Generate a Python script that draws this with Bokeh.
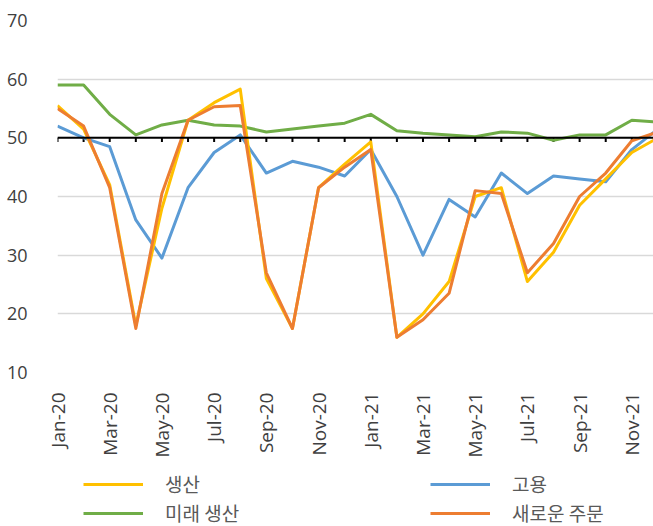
import math
from bokeh.plotting import figure
from bokeh.layouts import column
from bokeh.models import Range1d, FixedTicker, Span, Legend, LegendItem, ColumnDataSource
from bokeh.embed import file_html
from bokeh.resources import INLINE

months = ["Jan-20", "Feb-20", "Mar-20", "Apr-20", "May-20", "Jun-20", "Jul-20", "Aug-20",
          "Sep-20", "Oct-20", "Nov-20", "Dec-20", "Jan-21", "Feb-21", "Mar-21", "Apr-21",
          "May-21", "Jun-21", "Jul-21", "Aug-21", "Sep-21", "Oct-21", "Nov-21", "Dec-21"]
production = [55.5, 51.5, 42, 18, 38, 53, 56, 58.3, 26, 17.5, 41.5, 45.5,
              49.3, 16, 20, 25.5, 40, 41.5, 25.5, 30.5, 38.5, 43, 47.5, 50]
employment = [52, 50, 48.5, 36, 29.5, 41.5, 47.5, 50.5, 44, 46, 45, 43.5,
              48, 40, 30, 39.5, 36.5, 44, 40.5, 43.5, 43, 42.5, 48, 51.5]
future_production = [59, 59, 54, 50.5, 52.2, 53, 52.2, 52, 51, 51.5, 52, 52.5,
                     54, 51.2, 50.8, 50.5, 50.2, 51, 50.8, 49.6, 50.5, 50.5, 53, 52.7]
new_orders = [55, 52, 41.5, 17.5, 40.5, 53, 55.3, 55.5, 27, 17.5, 41.5, 45,
              48, 16, 19, 23.5, 41, 40.5, 27, 32, 40, 44, 49.5, 51]
names = ["생산", "고용", "미래 생산", "새로운 주문"]
colors = ["#FFC000", "#5B9BD5", "#70AD47", "#ED7D31"]
y_ticks = [10, 20, 30, 40, 50, 60, 70]
threshold = 50

idx = list(range(len(months)))
src = ColumnDataSource(dict(x=idx, prod=production, emp=employment,
                            fut=future_production, orders=new_orders))
cols = ["prod", "emp", "fut", "orders"]

p = figure(width=653, height=460, output_backend="svg", toolbar_location=None,
           x_range=Range1d(0, 22.83), y_range=Range1d(10, 70),
           min_border_left=57, min_border_top=20, min_border_right=0, min_border_bottom=86)
p.outline_line_color = None
p.background_fill_color = "white"

FONT = "Open Sans"
TXT = "#404040"

p.yaxis.ticker = FixedTicker(ticks=y_ticks)
p.yaxis.axis_line_color = None
p.yaxis.major_tick_line_color = None
p.yaxis.minor_tick_line_color = None
p.yaxis.major_label_standoff = 24
p.yaxis.major_label_text_font = FONT
p.yaxis.major_label_text_font_size = "18px"
p.yaxis.major_label_text_color = TXT

p.xaxis.ticker = FixedTicker(ticks=idx[::2])
p.xaxis.major_label_overrides = {i: months[i] for i in idx[::2]}
p.xaxis.major_label_orientation = math.pi / 2
p.xaxis.axis_line_color = None
p.xaxis.major_tick_line_color = None
p.xaxis.minor_tick_line_color = None
p.xaxis.major_label_standoff = 14
p.xaxis.major_label_text_font = FONT
p.xaxis.major_label_text_font_size = "19px"
p.xaxis.major_label_text_color = TXT

p.xgrid.grid_line_color = None
p.ygrid.grid_line_color = "#d9d9d9"
p.ygrid.grid_line_width = 1.5

p.add_layout(Span(location=threshold, dimension="width", line_color="black", line_width=2))
p.segment(x0=idx, y0=[threshold] * len(idx), x1=idx, y1=[threshold - 0.7] * len(idx),
          line_color="black", line_width=2)

lw = 3
for k in (1, 2, 0, 3):
    p.line("x", cols[k], source=src, line_color=colors[k], line_width=lw, line_join="round")

# legend strip below the chart (same series, drawn outside its visible range)
q = figure(width=653, height=66, output_backend="svg", toolbar_location=None,
           x_range=Range1d(0, 22.83), y_range=Range1d(100, 101),
           min_border_left=57, min_border_top=0, min_border_right=0, min_border_bottom=0)
q.outline_line_color = None
q.axis.visible = False
q.grid.visible = False
legend_lines = [q.line("x", c, source=src, line_color=col, line_width=3)
                for c, col in zip(cols, colors)]
legend = Legend(items=[LegendItem(label=n, renderers=[r]) for n, r in zip(names, legend_lines)],
                orientation="horizontal", ncols=2, location=(26, 0))
legend.label_text_font = "Noto Sans CJK KR"
legend.label_text_font_size = "19px"
legend.label_text_color = "#595959"
legend.glyph_width = 60
legend.glyph_height = 20
legend.label_height = 20
legend.label_standoff = 22
legend.label_width = 263
legend.spacing = 2
legend.padding = 0
legend.margin = 0
legend.border_line_color = None
legend.background_fill_alpha = 0
q.add_layout(legend, "center")

open("out.html", "w").write(file_html(column(p, q, spacing=0), INLINE))
